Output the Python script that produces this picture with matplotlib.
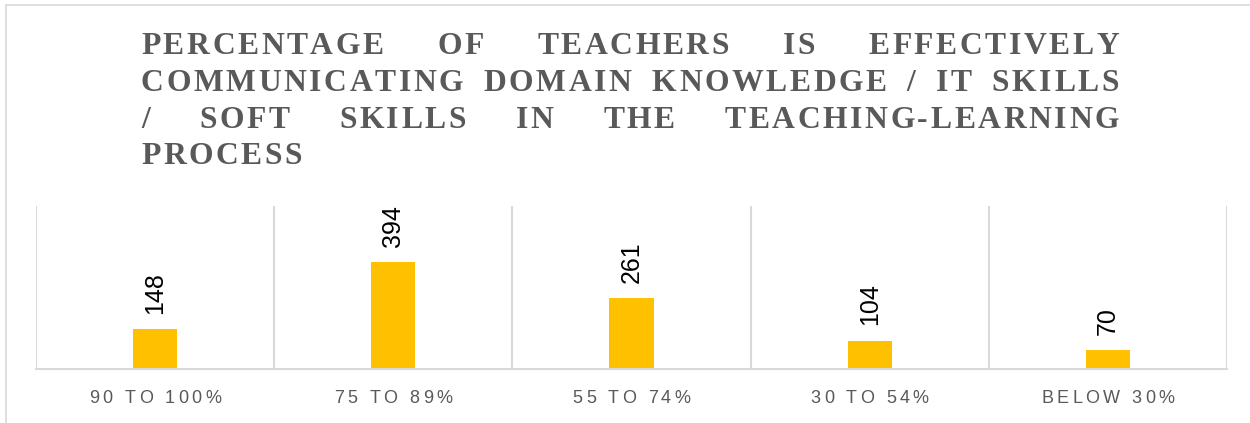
"""
Bar chart: share of teachers effectively communicating skills in teaching-learning.
"""

import matplotlib
matplotlib.use("Agg")
import matplotlib.pyplot as plt
from matplotlib.font_manager import FontProperties
from matplotlib.patches import Rectangle

# ----- Data -----
categories = ["90 TO 100%", "75 TO 89%", "55 TO 74%", "30 TO 54%", "BELOW 30%"]
counts = [148, 394, 261, 104, 70]
title_lines = [
    "PERCENTAGE OF TEACHERS IS EFFECTIVELY",
    "COMMUNICATING DOMAIN KNOWLEDGE / IT SKILLS",
    "/ SOFT SKILLS IN THE TEACHING-LEARNING",
    "PROCESS",
]

W, H = 1250, 423
GREY = "#595959"
LIGHT = "#D9D9D9"
BAR = "#FFC000"

fig = plt.figure(figsize=(W / 100, H / 100), dpi=100)
renderer = fig.canvas.get_renderer()

# outer chart frame (runs off the right and bottom edges)
fig.patches.append(Rectangle((6 / W, -0.2), 2.0, 1.2 - 5.5 / H, transform=fig.transFigure,
                             fill=False, edgecolor=LIGHT, linewidth=1.2))


def char_w(c, prop):
    w, _, _ = renderer.get_text_width_height_descent(c, prop, ismath=False)
    return w


def word_width(word, prop, spacing):
    return sum(char_w(c, prop) for c in word) + spacing * (len(word) - 1)


def draw_word(x, y, word, prop, spacing, color):
    # x, y in pixels from top-left, y is the baseline
    for c in word:
        fig.text(x / W, 1 - y / H, c, fontproperties=prop, color=color,
                 ha="left", va="baseline")
        x += char_w(c, prop) + spacing
    return x


# ----- Title (justified, letter spaced) -----
title_prop = FontProperties(family="Liberation Serif", weight="bold", size=22.8)
t_left, t_right = 141, 1119
t_spacing = 2.6
baselines = [54.5, 91, 128, 164.5]
for i, line in enumerate(title_lines):
    words = line.split(" ")
    widths = [word_width(w, title_prop, t_spacing) for w in words]
    if i < len(title_lines) - 1 and len(words) > 1:
        gap = (t_right - t_left - sum(widths)) / (len(words) - 1)
    else:
        gap = char_w(" ", title_prop) + 2 * t_spacing
    x = t_left
    for w, wd in zip(words, widths):
        draw_word(x, baselines[i], w, title_prop, t_spacing, GREY)
        x += wd + gap

# ----- Bars -----
ax = fig.add_axes([36 / W, (H - 369) / H, 1191 / W, 163 / H])
x = list(range(len(categories)))
ax.bar(x, counts, width=0.185, color=BAR, zorder=2)
ax.set_xlim(-0.5, len(categories) - 0.5)
ax.set_ylim(0, 600)

for b in [i - 0.5 for i in range(len(categories) + 1)]:
    ax.axvline(b, color=LIGHT, linewidth=1.5, zorder=1)

for s in ["top", "left", "right"]:
    ax.spines[s].set_visible(False)
ax.spines["bottom"].set_color(LIGHT)
ax.spines["bottom"].set_linewidth(1.5)
ax.set_xticks([])
ax.set_yticks([])

for xi, v in zip(x, counts):
    ax.annotate(str(v), (xi, v), xytext=(0, 11), textcoords="offset points",
                rotation=90, ha="center", va="bottom", fontsize=18,
                family="Liberation Sans", color="black")

# ----- Category labels (letter spaced) -----
tick_prop = FontProperties(family="Liberation Sans", size=13)
tick_spacing = 3.4
for xi, lab in zip(x, categories):
    cx = ax.transData.transform((xi, 0))[0]
    wd = word_width(lab, tick_prop, tick_spacing)
    draw_word(cx - wd / 2, 403.3, lab, tick_prop, tick_spacing, GREY)

plt.savefig("out.png", dpi=100)
